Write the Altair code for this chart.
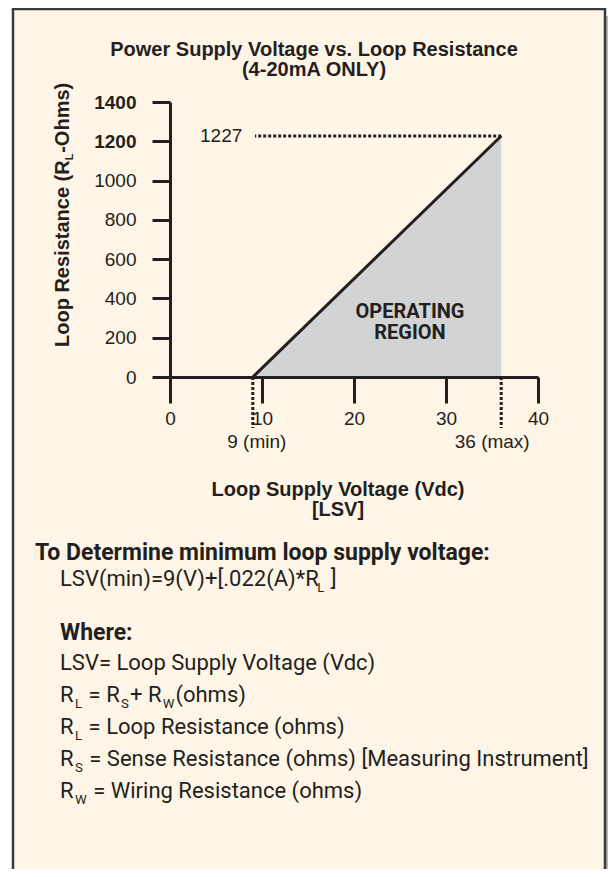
import altair as alt
import pandas as pd

# ---- data -------------------------------------------------------------
region_x = [9, 36]          # Loop supply voltage (Vdc): min / max
region_y = [0, 1227]        # Loop resistance (ohms)
limit_labels = ["9 (min)", "36 (max)"]
x_ticks = [0, 10, 20, 30, 40]
y_ticks = [0, 200, 400, 600, 800, 1000, 1200, 1400]
max_resistance = 1227

INK = "#231f20"
CREAM = "#fff5e6"
GRAY = "#d1d3d4"
SANS = "Liberation Sans, Arial, Helvetica, sans-serif"
COND = "Roboto, Liberation Sans, sans-serif"

W, H = 368, 275

region = pd.DataFrame({"v": region_x, "r": region_y})
limits = pd.DataFrame({"v": region_x, "label": limit_labels})

xscale = alt.Scale(domain=[0, 40], nice=False)
yscale = alt.Scale(domain=[0, 1400], nice=False)

x_axis = alt.Axis(
    values=x_ticks, title=None, tickSize=26, tickWidth=3, domainWidth=3,
    domainColor=INK, tickColor=INK, labelColor=INK, labelFontSize=19,
    labelFont=SANS, labelPadding=6, grid=False, zindex=1, labelFlush=False,
    labelOverlap=False, format="d")
y_axis = alt.Axis(
    values=y_ticks, title=None, tickSize=18, tickWidth=3, domainWidth=3,
    domainColor=INK, tickColor=INK, labelColor=INK, labelFontSize=19,
    labelFont=SANS, labelPadding=16, grid=False, zindex=1, labelFlush=False,
    labelOverlap=False, format="d",
    labelFontWeight={"condition": {"test": "datum.value >= 1200", "value": "bold"},
                     "value": "normal"})

X = alt.X("v:Q", scale=xscale, axis=x_axis)
Y = alt.Y("r:Q", scale=yscale, axis=y_axis)

one = pd.DataFrame({"a": [0]})

# approximate Roboto advance widths (units per 2048 em) for placing subscripts
RW = {' ': 507, '(': 684, ')': 696, '*': 864, '+': 1135, '.': 527, '0': 1150, '2': 1150,
      '9': 1150, '=': 1124, '[': 544, ']': 544, ':': 484, 'A': 1336, 'I': 573, 'L': 1103,
      'M': 1795, 'R': 1260, 'S': 1216, 'V': 1305, 'W': 1818, 'a': 1088, 'c': 1072,
      'd': 1120, 'e': 1058, 'g': 1120, 'h': 1102, 'i': 496, 'l': 496, 'm': 1751,
      'n': 1104, 'o': 1140, 'p': 1120, 'r': 692, 's': 1056, 't': 670, 'u': 1102,
      'y': 968, 'v': 968}


def width(s, size):
    return sum(RW.get(c, 1100) for c in s) / 2048 * size


def txt(text, x, y, size=19, weight="normal", font=SANS, align="left",
        baseline="alphabetic", angle=0, color=INK):
    return alt.Chart(one).mark_text(
        text=text, fontSize=size, fontWeight=weight, font=font, align=align,
        baseline=baseline, angle=angle, color=color
    ).encode(x=alt.value(x), y=alt.value(y))


def rich(parts, x, y, size=22):
    """parts: list of (text, is_subscript); returns text layers placed in sequence."""
    out = []
    for s, sub in parts:
        sz = size * 0.6 if sub else size
        if sub:
            x += 1.5
        lead = len(s) - len(s.lstrip(" "))
        x += width(" " * lead, sz)
        s = s.lstrip(" ")
        out.append(txt(s, round(x, 1), y + (size * 0.26 if sub else 0), round(sz, 1),
                       "normal", COND))
        x += width(s, sz) + (1 if sub else 0)
    return out


# frame (cream panel with dark border and grey shadow)
shadow = alt.Chart(one).mark_rect(color="#b9b9bd").encode(
    x=alt.value(436), x2=alt.value(445), y=alt.value(-86), y2=alt.value(800))
panel = alt.Chart(one).mark_rect(fill=CREAM, stroke="#3a3a3a", strokeWidth=2.5).encode(
    x=alt.value(-157), x2=alt.value(435), y=alt.value(-93), y2=alt.value(800))

area = alt.Chart(region).mark_area(color=GRAY, opacity=1).encode(x=X, y=Y)
edge = alt.Chart(region).mark_line(color=INK, strokeWidth=3).encode(x=X, y=Y)

vdots = alt.Chart(limits).mark_rule(color=INK, strokeWidth=3, strokeDash=[3, 2]).encode(
    x=X, y=alt.value(275), y2=alt.value(326))

vlab_min = alt.Chart(limits).transform_filter("datum.v == 9").mark_text(
    fontSize=19, font=SANS, color=INK, baseline="middle", align="center", dx=4).encode(
    x=X, y=alt.value(340), text="label:N")
vlab_max = alt.Chart(limits).transform_filter("datum.v == 36").mark_text(
    fontSize=19, font=SANS, color=INK, baseline="middle", align="center", dx=-9).encode(
    x=X, y=alt.value(340), text="label:N")

top = pd.DataFrame({"v": [max(region_x)], "r": [max_resistance], "t": [str(max_resistance)]})
hdots = alt.Chart(top).mark_rule(color=INK, strokeWidth=3, strokeDash=[3, 2]).encode(
    x=X, x2=alt.value(85), y=Y)
hlabel = alt.Chart(top).mark_text(fontSize=19, font=SANS, color=INK, align="left",
                                  baseline="middle").encode(
    x=alt.value(30), y=Y, text="t:N")

# y-axis title pieces (Arial-bold metrics, 20px)
yt_start = 245
yt_main = 9.335 * 20
texts = [
    txt("Power Supply Voltage vs. Loop Resistance", 144, -46, 20, "bold", align="center"),
    txt("(4-20mA ONLY)", 144, -26, 20, "bold", align="center"),
    txt("Loop Resistance (R", -101, yt_start, 20, "bold", angle=270),
    txt("L", -97, round(yt_start - yt_main, 1), 11, "bold", angle=270),
    txt("-Ohms)", -101, round(yt_start - yt_main - 7.5, 1), 20, "bold", angle=270),
    txt("Loop Supply Voltage (Vdc)", 168, 394, 20, "bold", align="center"),
    txt("[LSV]", 168, 414, 20, "bold", align="center"),
    txt("OPERATING", 240, 210, 20, "bold", COND, align="center", baseline="middle"),
    txt("REGION", 240, 231, 20, "bold", COND, align="center", baseline="middle"),
    txt("To Determine minimum loop supply voltage:", -135, 458, 23, "bold", COND),
    txt("Where:", -110, 538, 23, "bold", COND),
    txt("LSV= Loop Supply Voltage (Vdc)", -110, 568, 22, "normal", COND),
]
texts += rich([("LSV(min)=9(V)+[.022(A)*R", 0), ("L", 1), (" ]", 0)], -110, 484)
texts += rich([("R", 0), ("L", 1), (" = R", 0), ("S", 1), ("+ R", 0), ("W", 1),
               ("(ohms)", 0)], -110, 600)
texts += rich([("R", 0), ("L", 1), (" = Loop Resistance (ohms)", 0)], -110, 632)
texts += rich([("R", 0), ("S", 1), (" = Sense Resistance (ohms) [Measuring Instrument]", 0)],
              -110, 664)
texts += rich([("R", 0), ("W", 1), (" = Wiring Resistance (ohms)", 0)], -110, 696)

chart = alt.layer(shadow, panel, area, edge, vdots, vlab_min, vlab_max, hdots, hlabel,
                  *texts).properties(
    width=W, height=H,
    autosize=alt.AutoSizeParams(type="none"),
    padding={"left": 162, "top": 94, "right": 70, "bottom": 492},
    background="white",
).configure_view(stroke=None)

chart.save("out.html", embed_options={"renderer": "svg", "actions": False})
